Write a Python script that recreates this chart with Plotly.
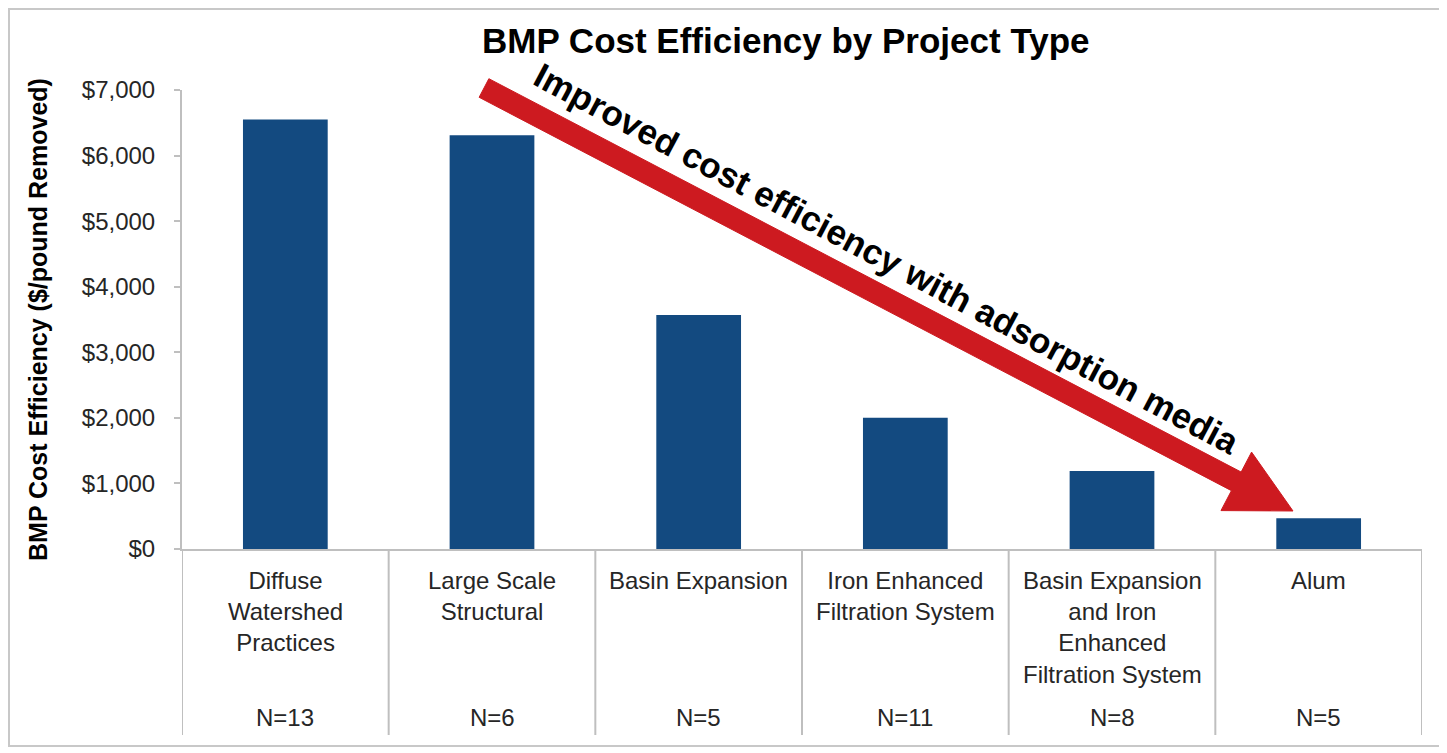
import numpy as np
import plotly.graph_objects as go

# data
categories = [
    "Diffuse Watershed Practices",
    "Large Scale Structural",
    "Basin Expansion",
    "Iron Enhanced Filtration System",
    "Basin Expansion and Iron Enhanced Filtration System",
    "Alum",
]
category_labels = [
    "Diffuse<br>Watershed<br>Practices",
    "Large Scale<br>Structural",
    "Basin Expansion",
    "Iron Enhanced<br>Filtration System",
    "Basin Expansion<br>and Iron<br>Enhanced<br>Filtration System",
    "Alum",
]
cost_per_pound = [6550, 6310, 3570, 2000, 1190, 470]
n_projects = [13, 6, 5, 11, 8, 5]
y_ticks = [0, 1000, 2000, 3000, 4000, 5000, 6000, 7000]
y_tick_text = [f"${v:,}" for v in y_ticks]

# page has an 8px body margin, so work in page pixels and shift
OFF = 8
W, H = 1447 - OFF, 753 - OFF
PLOT_L, PLOT_R, PLOT_T, PLOT_B = 182, 1422, 90, 549  # page pixels
ML, MT = PLOT_L - OFF, PLOT_T - OFF
MR, MB = W - (PLOT_R - OFF), H - (PLOT_B - OFF)

FONT = "Arial, Liberation Sans, sans-serif"
BAR_COLOR = "#134A80"
ARROW_COLOR = "#CD1A20"
GRID_GRAY = "#BFBFBF"


def px_x(x):
    return (x - PLOT_L) / (PLOT_R - PLOT_L)


def px_y(y):
    return (PLOT_B - y) / (PLOT_B - PLOT_T)


fig = go.Figure(go.Bar(
    x=categories, y=cost_per_pound,
    marker=dict(color=BAR_COLOR, line=dict(width=0)),
    hovertemplate="%{x}<br>$%{y:,}<extra></extra>",
))

shapes = []
# separators between categories, running down through the label area
for i in range(len(categories) + 1):
    shapes.append(dict(
        type="line", xref="x", yref="paper",
        x0=i - 0.5, x1=i - 0.5, y0=0, y1=px_y(735),
        line=dict(color=GRID_GRAY, width=2), layer="below",
    ))
# outer frame
shapes.append(dict(
    type="rect", xref="paper", yref="paper",
    x0=px_x(9), x1=px_x(1440), y0=px_y(746), y1=px_y(9),
    line=dict(color="#C8C8C8", width=2),
))

# big red arrow (pixel geometry -> paper)
start = np.array([484.0, 88.0])
tip = np.array([1293.0, 511.0])
u = (tip - start) / np.linalg.norm(tip - start)
n = np.array([-u[1], u[0]])
shaft_half, head_half, head_len = 10.5, 33, 64
base = tip - u * head_len
pts = [start + n * shaft_half, base + n * shaft_half, base + n * head_half, tip,
       base - n * head_half, base - n * shaft_half, start - n * shaft_half]
path = "M " + " L ".join(f"{px_x(p[0]):.5f},{px_y(p[1]):.5f}" for p in pts) + " Z"
shapes.append(dict(
    type="path", xref="paper", yref="paper", path=path,
    fillcolor=ARROW_COLOR, line=dict(color=ARROW_COLOR, width=1),
))

annotations = []
for cat, lab, cnt in zip(categories, category_labels, n_projects):
    annotations.append(dict(
        x=cat, xref="x", y=px_y(565), yref="paper",
        xanchor="center", yanchor="top",
        text=lab, showarrow=False, align="center",
        font=dict(family=FONT, size=24, color="#262626"),
    ))
    annotations.append(dict(
        x=cat, xref="x", y=px_y(717), yref="paper",
        xanchor="center", yanchor="middle",
        text=f"N={cnt}", showarrow=False,
        font=dict(family=FONT, size=24, color="#262626"),
    ))

annotations.append(dict(
    x=px_x(38), y=px_y(320), xref="paper", yref="paper",
    xanchor="center", yanchor="middle",
    text="<b>BMP Cost Efficiency ($/pound Removed)</b>", textangle=-90,
    showarrow=False, font=dict(family=FONT, size=25, color="#000000"),
))
annotations.append(dict(
    x=px_x(887), y=px_y(258), xref="paper", yref="paper",
    xanchor="center", yanchor="middle",
    text="<b>Improved cost efficiency with adsorption media</b>", textangle=28,
    showarrow=False, font=dict(family=FONT, size=35, color="#000000"),
))
annotations.append(dict(
    x=px_x(785), y=px_y(40), xref="paper", yref="paper",
    xanchor="center", yanchor="middle",
    text="<b>BMP Cost Efficiency by Project Type</b>",
    showarrow=False, font=dict(family=FONT, size=35, color="#000000"),
))

fig.update_layout(
    width=W, height=H,
    margin=dict(l=ML, r=MR, t=MT, b=MB),
    paper_bgcolor="white", plot_bgcolor="white",
    bargap=0.59,
    showlegend=False,
    xaxis=dict(
        showticklabels=False, ticks="", showgrid=False,
        showline=True, linecolor=GRID_GRAY, linewidth=2,
        range=[-0.5, len(categories) - 0.5],
    ),
    yaxis=dict(
        range=[0, 7000], tickvals=y_ticks, ticktext=y_tick_text,
        showgrid=False, zeroline=False,
        showline=True, linecolor=GRID_GRAY, linewidth=2,
        ticks="outside", ticklen=6, tickcolor=GRID_GRAY, tickwidth=2,
        ticklabelstandoff=14,
        tickfont=dict(family=FONT, size=24, color="#262626"),
    ),
    shapes=shapes,
    annotations=annotations,
)

fig.write_html("out.html")
